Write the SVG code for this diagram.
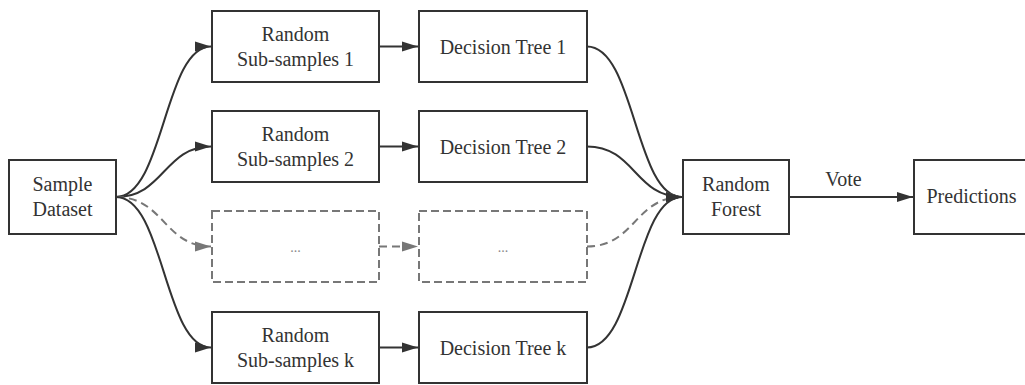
<svg xmlns="http://www.w3.org/2000/svg" width="1025" height="385" viewBox="0 0 1025 385">
<style>
.box{fill:#fff;stroke:#333;stroke-width:2}
.dbox{fill:#fff;stroke:#777;stroke-width:2;stroke-dasharray:8,4}
.t{font-family:'Liberation Serif','Times New Roman',Times,'DejaVu Serif',serif;font-size:20px;fill:#333;text-anchor:middle}
.dt{font-family:'Liberation Serif','Times New Roman',Times,'DejaVu Serif',serif;font-size:14px;fill:#888;text-anchor:middle}
.e{fill:none;stroke:#333;stroke-width:2}
.de{fill:none;stroke:#777;stroke-width:2;stroke-dasharray:8,5}
</style>
<defs>
<marker id="ah" markerUnits="userSpaceOnUse" markerWidth="18" markerHeight="12" refX="16" refY="5.5" orient="auto">
<path d="M0,0.5 L16,5.5 L0,10.5 z" fill="#333"/>
</marker>
<marker id="dah" markerUnits="userSpaceOnUse" markerWidth="18" markerHeight="12" refX="16" refY="5.5" orient="auto">
<path d="M0,0.5 L16,5.5 L0,10.5 z" fill="#777"/>
</marker>
</defs>
<rect width="1025" height="385" fill="#fff"/>
<g id="connectors">
<path class="e" d="M116,197 C164,197 164,46.5 211,46.5" marker-end="url(#ah)"/>
<path class="e" d="M116,197 C164,197 164,146.5 211,146.5" marker-end="url(#ah)"/>
<path class="de" d="M116,197 C164,197 164,246.5 211,246.5" marker-end="url(#dah)"/>
<path class="e" d="M116,197 C164,197 164,347.5 211,347.5" marker-end="url(#ah)"/>
<path class="e" d="M379,46.5 L418,46.5" marker-end="url(#ah)"/>
<path class="e" d="M379,146.5 L418,146.5" marker-end="url(#ah)"/>
<path class="de" d="M379,246.5 L418,246.5" marker-end="url(#dah)"/>
<path class="e" d="M379,347.5 L418,347.5" marker-end="url(#ah)"/>
<path class="e" d="M587,46.5 C635,46.5 635,197 682,197" marker-end="url(#ah)"/>
<path class="e" d="M587,146.5 C635,146.5 635,197 682,197" marker-end="url(#ah)"/>
<path class="de" d="M587,246.5 C635,246.5 635,197 682,197" marker-end="url(#dah)"/>
<path class="e" d="M587,347.5 C635,347.5 635,197 682,197" marker-end="url(#ah)"/>
<path class="e" d="M789,197 L913,197" marker-end="url(#ah)"/>
<text class="t" x="843.5" y="186">Vote</text>
</g>
<g id="sample-dataset">
<rect class="box" x="9" y="160" width="107" height="74"/>
<text class="t" x="62.5" y="190.7">Sample</text>
<text class="t" x="62.5" y="215.7">Dataset</text>
</g>
<g id="sub1">
<rect class="box" x="212" y="11" width="167" height="71"/>
<text class="t" x="295.5" y="40.7">Random</text>
<text class="t" x="295.5" y="65.7">Sub-samples 1</text>
</g>
<g id="tree1">
<rect class="box" x="419" y="11" width="168" height="71"/>
<text class="t" x="503" y="53.5">Decision Tree 1</text>
</g>
<g id="sub2">
<rect class="box" x="212" y="111" width="167" height="71"/>
<text class="t" x="295.5" y="140.7">Random</text>
<text class="t" x="295.5" y="165.7">Sub-samples 2</text>
</g>
<g id="tree2">
<rect class="box" x="419" y="111" width="168" height="71"/>
<text class="t" x="503" y="153.5">Decision Tree 2</text>
</g>
<g id="sub-dots">
<rect class="dbox" x="212" y="211" width="167" height="71"/>
<text class="dt" x="295.5" y="252">...</text>
</g>
<g id="tree-dots">
<rect class="dbox" x="419" y="211" width="168" height="71"/>
<text class="dt" x="503" y="252">...</text>
</g>
<g id="subk">
<rect class="box" x="212" y="312" width="167" height="71"/>
<text class="t" x="295.5" y="341.7">Random</text>
<text class="t" x="295.5" y="366.7">Sub-samples k</text>
</g>
<g id="treek">
<rect class="box" x="419" y="312" width="168" height="71"/>
<text class="t" x="503" y="354.5">Decision Tree k</text>
</g>
<g id="random-forest">
<rect class="box" x="683" y="160" width="106" height="74"/>
<text class="t" x="736" y="191">Random</text>
<text class="t" x="736" y="216">Forest</text>
</g>
<g id="predictions">
<rect class="box" x="914" y="160" width="116" height="74"/>
<text class="t" x="971.5" y="203.3">Predictions</text>
</g>
</svg>
